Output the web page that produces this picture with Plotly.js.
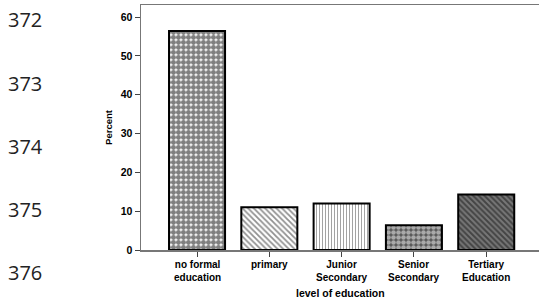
<!DOCTYPE html>
<html>
<head>
<meta charset="utf-8">
<script src="https://cdn.plot.ly/plotly-3.0.1.min.js"></script>
<style>html,body{margin:0;padding:0;background:#fff}#chart{width:539px;height:300px}</style>
</head>
<body>
<div id="chart"></div>
<script>
const categories = ["no formal<br>education", "primary", "Junior<br>Secondary", "Senior<br>Secondary", "Tertiary<br>Education"];
const percent = [56.4, 11.0, 12.0, 6.4, 14.3];
const yTicks = [0, 10, 20, 30, 40, 50, 60];
const lineNumbers = ["372", "373", "374", "375", "376"];
const xTitle = "level of education";
const yTitle = "Percent";

const patternShapes = [".", "\\", "|", ".", "\\"];
const patternFg = ["#000000", "#222222", "#333333", "#ffffff", "#111111"];
const patternBg = ["#ffffff", "#ffffff", "#ffffff", "#555555", "#777777"];
const patternSize = [5, 4, 3, 5, 4];
const patternSolidity = [0.78, 0.45, 0.3, 0.65, 0.5];

const xIdx = categories.map((c, i) => i);
const FONT = "Liberation Sans, Arial, sans-serif";

const trace = {
  type: "bar",
  x: xIdx,
  y: percent,
  width: 0.775,
  marker: {
    color: "#ffffff",
    line: {color: "#000000", width: 2},
    pattern: {
      shape: patternShapes,
      fgcolor: patternFg,
      bgcolor: patternBg,
      size: patternSize,
      solidity: patternSolidity,
      fillmode: "overlay"
    }
  },
  hoverinfo: "none"
};

const annotations = [];
lineNumbers.forEach((t, i) => {
  annotations.push({
    xref: "paper", yref: "paper",
    x: -135/398, y: 1 - ((20 + i * 63) - 5) / 245,
    xanchor: "left", yanchor: "middle",
    text: t, showarrow: false,
    font: {family: "Open Sans, Noto Sans, sans-serif", size: 20, color: "#222222"}
  });
});
categories.forEach((c, i) => {
  annotations.push({
    xref: "x", yref: "paper", x: i, y: 0,
    xanchor: "center", yanchor: "top",
    yshift: -7,
    text: "<b>" + c + "</b>", showarrow: false,
    font: {family: FONT, size: 10, color: "#000000"}
  });
});
annotations.push({
  xref: "paper", yref: "paper", x: 0.5, y: 0,
  xanchor: "center", yanchor: "top", yshift: -35,
  text: "<b>" + xTitle + "</b>", showarrow: false,
  font: {family: FONT, size: 10.5, color: "#000000"}
});

const layout = {
  width: 539, height: 300,
  margin: {l: 141, r: 0, t: 5, b: 50},
  paper_bgcolor: "#ffffff",
  plot_bgcolor: "#ffffff",
  showlegend: false,
  font: {family: FONT, size: 10, color: "#000000"},
  xaxis: {
    range: [-0.775, 4.73],
    tickmode: "array",
    tickvals: xIdx,
    showticklabels: false,
    ticks: "outside", ticklen: 5, tickcolor: "#444444", tickwidth: 1,
    showline: true, linecolor: "#777777", linewidth: 1.5, mirror: true,
    showgrid: false, zeroline: false,
    fixedrange: true
  },
  yaxis: {
    range: [0, 63.1],
    tickmode: "array",
    tickvals: yTicks,
    ticktext: yTicks.map(v => "<b>" + v + "</b>"),
    ticks: "outside", ticklen: 5, tickcolor: "#444444", tickwidth: 1,
    showline: true, linecolor: "#777777", linewidth: 1.5,
    showgrid: false, zeroline: false,
    tickfont: {size: 10.5, family: FONT},
    title: {text: "<b>" + yTitle + "</b>", font: {size: 9.5, family: FONT}, standoff: 6},
    fixedrange: true
  },
  annotations: annotations
};

Plotly.newPlot("chart", [trace], layout, {displayModeBar: false, staticPlot: true});
</script>
</body>
</html>
